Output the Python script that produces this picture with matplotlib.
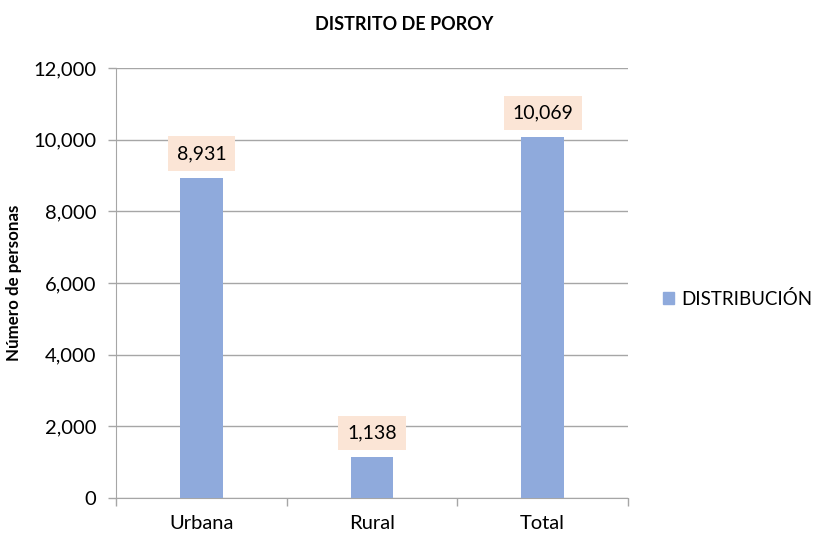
import matplotlib.pyplot as plt
from matplotlib.patches import Patch
from matplotlib.ticker import FuncFormatter

categories = ['Urbana', 'Rural', 'Total']
values = [8931, 1138, 10069]
series_name = 'DISTRIBUCIÓN'

plt.rcParams['font.family'] = ['Lato', 'DejaVu Sans']

fig = plt.figure(figsize=(8.13, 5.34), dpi=100)
ax = fig.add_axes([0.1427, 0.0674, 0.6298, 0.8053])

bar_color = '#8FAADC'
x = range(len(categories))
ax.bar(x, values, width=0.25, color=bar_color, zorder=3)

# value labels in peach boxes above each bar
for xi, v in zip(x, values):
    ax.annotate(f'{v:,}', xy=(xi, v), xytext=(0, 17.5), textcoords='offset points',
                ha='center', va='center', fontsize=14,
                bbox=dict(boxstyle='square,pad=0.45', fc='#FBE5D6', ec='none'), zorder=4)

ax.set_xlim(-0.5, 2.5)
ax.set_ylim(0, 12000)
ax.set_yticks(range(0, 12001, 2000))
ax.yaxis.set_major_formatter(FuncFormatter(lambda v, p: f'{int(v):,}'))
ax.grid(axis='y', color='#A6A6A6', linewidth=1, zorder=0)
ax.set_xticks(list(x))
ax.set_xticklabels(categories, fontsize=14.5)
ax.set_xticks([-0.5, 0.5, 1.5, 2.5], minor=True)
ax.tick_params(axis='x', which='major', length=0, pad=12)
ax.tick_params(axis='x', which='minor', length=6, color='#A6A6A6', width=1)
ax.tick_params(axis='y', length=6, color='#A6A6A6', width=1, labelsize=14.5, pad=8)
for s in ['top', 'right']:
    ax.spines[s].set_visible(False)
for s in ['left', 'bottom']:
    ax.spines[s].set_color('#A6A6A6')

ax.set_ylabel('Número de personas', fontsize=12.2, fontweight='bold', labelpad=8)
fig.text(0.497, 0.955, 'DISTRITO DE POROY', ha='center', va='center',
         fontsize=13, fontweight='bold')

fig.legend(handles=[Patch(color=bar_color, label=series_name)],
           loc='center left', bbox_to_anchor=(0.815, 0.44), frameon=False,
           fontsize=13.5, handlelength=0.6, handleheight=0.6, handletextpad=0.4,
           borderpad=0, borderaxespad=0)

plt.savefig('out.png', dpi=100)
